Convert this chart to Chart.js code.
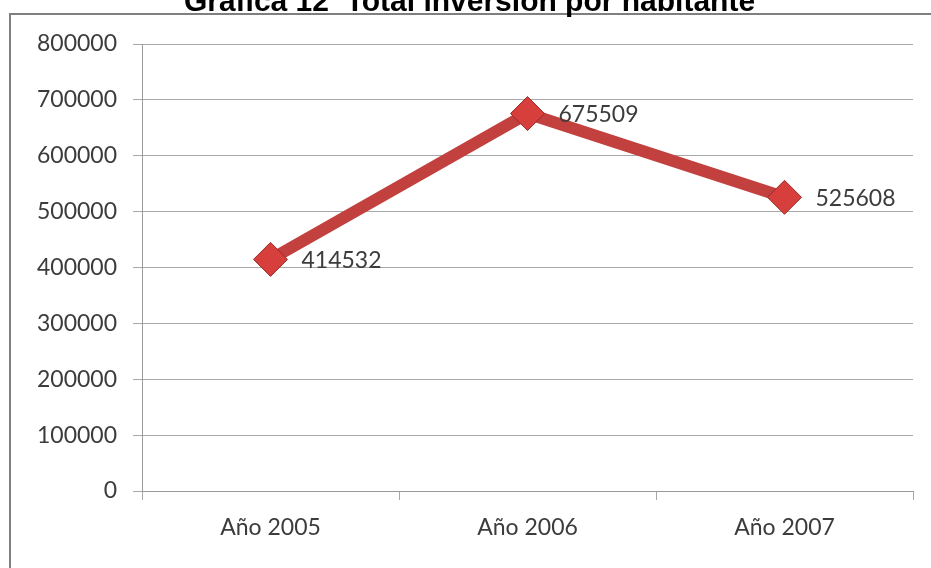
<!DOCTYPE html>
<html>
<head>
<meta charset="utf-8">
<script src="https://cdn.jsdelivr.net/npm/chart.js@4"></script>
<style>
  html, body { margin: 0; padding: 0; background: #fff; overflow: hidden; }
  #wrap { position: relative; width: 931px; height: 568px; overflow: hidden; }
  #chart { position: absolute; left: 0; top: 0; }
  #frame {
    position: absolute; left: 9px; top: 13px; width: 922px; height: 555px;
    border-left: 2px solid #7f7f7f; border-top: 2px solid #7f7f7f;
    box-sizing: border-box; pointer-events: none;
  }
  #title {
    position: absolute; left: 4px; top: -14px; width: 931px; text-align: center;
    font: bold 30px "Liberation Sans", Arial, sans-serif; line-height: 1; color: #000;
    white-space: pre;
  }
</style>
</head>
<body>
<div id="wrap">
  <canvas id="chart" width="931" height="568"></canvas>
  <div id="frame"></div>
  <div id="title">Gráfica 12  Total inversión por habitante</div>
</div>
<script>
// Data
const years = ["Año 2005", "Año 2006", "Año 2007"];
const inversionPorHabitante = [414532, 675509, 525608];
const yMin = 0;
const yMax = 800000;
const yStep = 100000;

const labelFont = { family: "Lato, 'Open Sans', sans-serif", size: 23 };
const textColor = "#3c3c3c";
const gridColor = "#a8a8a8";

// draws the value next to each diamond
const valueLabels = {
    id: "valueLabels",
    afterDatasetsDraw(chart) {
        const ctx = chart.ctx;
        const meta = chart.getDatasetMeta(0);
        ctx.save();
        ctx.font = `${labelFont.size}px ${labelFont.family}`;
        ctx.fillStyle = textColor;
        ctx.textAlign = "left";
        ctx.textBaseline = "middle";
        meta.data.forEach(function(pt, i) {
            ctx.fillText(String(chart.data.datasets[0].data[i]), pt.x + 31, pt.y + 1);
        });
        ctx.restore();
    }
};

const ctx = document.getElementById("chart").getContext("2d");
const chart = new Chart(ctx, {
    type: "line",
    data: {
        labels: years,
        datasets: [{
            data: inversionPorHabitante,
            borderColor: "#c2403d",
            borderWidth: 12,
            tension: 0,
            pointStyle: "rectRot",
            pointRadius: 17,
            pointHoverRadius: 17,
            pointBackgroundColor: "#d63f3b",
            pointBorderColor: "#9a2a28",
            pointBorderWidth: 1
        }]
    },
    options: {
        responsive: false,
        animation: false,
        devicePixelRatio: 1,
        layout: { padding: { top: 44, right: 16, left: 0, bottom: 0 } },
        plugins: {
            legend: { display: false },
            tooltip: { enabled: false }
        },
        scales: {
            x: {
                offset: true,
                grid: {
                    offset: true,
                    drawOnChartArea: false,
                    tickLength: 9,
                    color: gridColor
                },
                border: { color: "#999", width: 1 },
                ticks: { font: labelFont, color: textColor, padding: 14, maxRotation: 0 },
                afterFit: function(scale) { scale.height = 77; }
            },
            y: {
                min: yMin,
                max: yMax,
                ticks: {
                    stepSize: yStep,
                    font: labelFont,
                    color: textColor,
                    padding: 16,
                    callback: function(v) { return String(v); }
                },
                grid: { color: gridColor, lineWidth: 1, tickLength: 9 },
                border: { color: "#999", width: 1 },
                afterFit: function(scale) { scale.width = 142; }
            }
        }
    },
    plugins: [valueLabels]
});
</script>
</body>
</html>
